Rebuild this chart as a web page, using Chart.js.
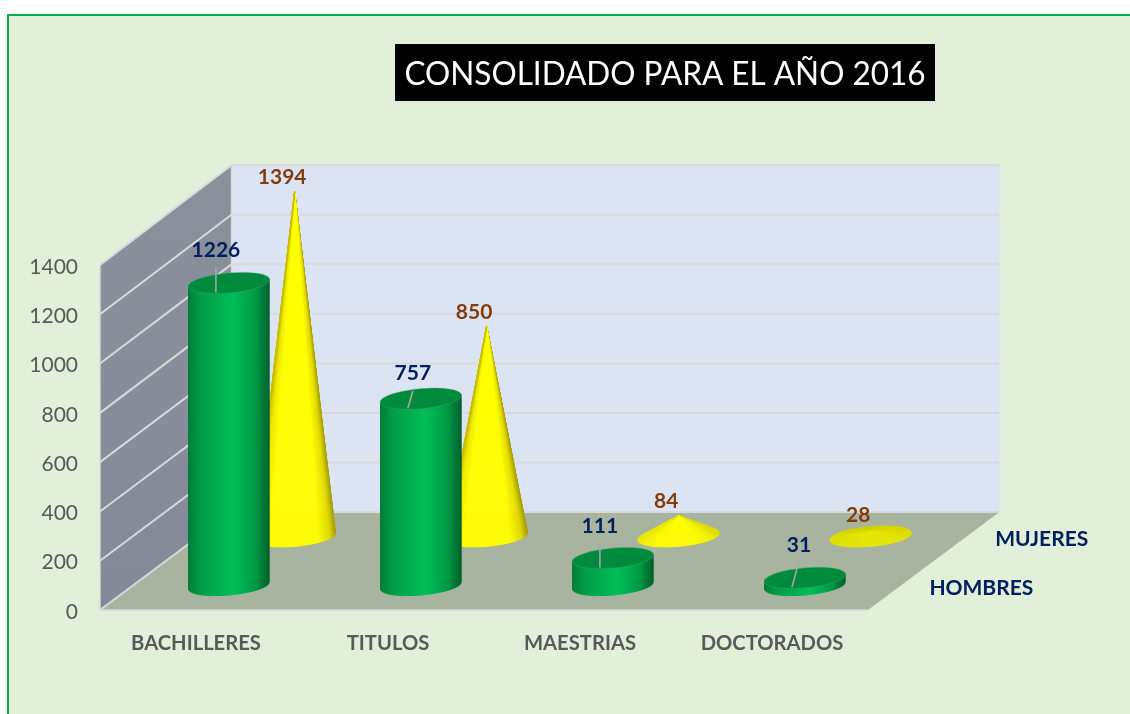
<!DOCTYPE html>
<html><head><meta charset="utf-8">
<style>
html,body{margin:0;padding:0;background:#fff;overflow:hidden}
#frame{position:absolute;left:7px;top:14px;width:1123px;height:700px;background:#E2EFD9;border-left:2px solid #00B050;border-top:2px solid #00B050;box-sizing:border-box}
canvas{position:absolute;left:0;top:0}
</style>
<script src="https://cdn.jsdelivr.net/npm/chart.js@4"></script>
</head><body>
<div id="frame"></div>
<canvas id="c" width="1130" height="714"></canvas>
<script>
const categories = ["BACHILLERES","TITULOS","MAESTRIAS","DOCTORADOS"];
const hombres = [1226,757,111,31];
const mujeres = [1394,850,84,28];
const seriesNames = ["HOMBRES","MUJERES"];
const chartTitle = "CONSOLIDADO PARA EL AÑO 2016";
const labelNudgeHombres = [-13,-8,-13,-6];   // horizontal shift of the moved labels
const labelLiftHombres = [34,26,33,34];      // vertical lift of the moved labels

const FONT = "Lato, Carlito, sans-serif";
const DEPTH_X = 131.5, DEPTH_Y = 98, ROT = -0.09, RX = 41, RY = 10, DEPTH_GROW = 0.005;
const ROWS = [0.25, 0.75];
let zeroPx = 610;

function project(x, y, d){
  return {x: x + DEPTH_X*d, y: zeroPx - (zeroPx-y)*(1+DEPTH_GROW*d) - DEPTH_Y*d};
}
function lerpStops(stops, s){
  for(let i=1;i<stops.length;i++){
    if(s<=stops[i][0]){
      const a=stops[i-1],b=stops[i],k=(s-a[0])/(b[0]-a[0]);
      return [0,1,2].map(j=>a[1][j]+(b[1][j]-a[1][j])*k);
    }
  }
  return stops[stops.length-1][1];
}
const yellowStops=[[0,[200,192,0]],[.07,[238,232,0]],[.2,[255,255,0]],[.78,[255,255,0]],[.92,[226,218,0]],[1,[165,158,0]]];

function drawCylinder(ctx, cx, baseY, topY){
  const g=ctx.createLinearGradient(cx-RX,0,cx+RX,0);
  g.addColorStop(0,'#007B38');g.addColorStop(.14,'#009A48');g.addColorStop(.55,'#00BE57');g.addColorStop(.82,'#009A46');g.addColorStop(1,'#005E2B');
  const cr=Math.cos(ROT), sr=Math.sin(ROT);
  ctx.beginPath();
  ctx.moveTo(cx+RX*cr, topY+RX*sr);
  ctx.lineTo(cx+RX*cr, baseY+RX*sr);
  ctx.ellipse(cx,baseY,RX,RY,ROT,0,Math.PI,false);
  ctx.lineTo(cx-RX*cr, topY-RX*sr);
  ctx.closePath();
  ctx.fillStyle=g;ctx.fill();
  ctx.beginPath();
  ctx.ellipse(cx,topY,RX,RY,ROT,0,Math.PI*2);
  ctx.fillStyle='#008A3E';ctx.fill();
  ctx.strokeStyle='rgba(60,170,110,.55)';ctx.lineWidth=.8;ctx.stroke();
}
function drawCone(ctx, cx, baseY, apexY){
  const cr=Math.cos(ROT), sr=Math.sin(ROT);
  const pt=t=>{const a=RX*Math.cos(t),b=RY*Math.sin(t);return [cx+a*cr-b*sr, baseY+a*sr+b*cr];};
  const dy=apexY-baseY;
  const ux=(dy*sr)/RX, uy=(dy*cr)/RY;
  const u=Math.hypot(ux,uy);
  let t0=0,t1=Math.PI*2;
  if(u>1){
    const phi=Math.atan2(uy,ux), d=Math.acos(1/u);
    t0=phi+d; t1=phi-d+Math.PI*2;
  }
  const flat=0.86+0.14*Math.min(1,u/2);
  const edge=Math.min(1,u/6);
  const N=160, step=(t1-t0)/N;
  for(let i=0;i<N;i++){
    const t=t0+step*i, p=pt(t), q=pt(t+step*1.05);
    const s=(Math.cos(t+step/2)+1)/2;
    const sn=Math.sin(t+step/2);
    const back=sn<0?1+0.1*sn:1;
    const c=lerpStops(yellowStops,s).map((v,j)=>{
      const plain=[255,255,0][j];
      return Math.round((plain+(v-plain)*edge)*flat*back);
    });
    const col=`rgb(${c[0]},${c[1]},${c[2]})`;
    ctx.beginPath();ctx.moveTo(cx,apexY);ctx.lineTo(p[0],p[1]);ctx.lineTo(q[0],q[1]);ctx.closePath();
    ctx.fillStyle=col;ctx.strokeStyle=col;ctx.lineWidth=.4;ctx.fill();ctx.stroke();
  }
}
function label(ctx,text,x,y,color,font){
  ctx.font=font;ctx.fillStyle=color;ctx.textAlign='center';ctx.textBaseline='middle';ctx.fillText(text,x,y);
}

const scene3d = {
  id:'scene3d',
  afterLayout(chart){
    chart.titleBlock.left=404.5; chart.titleBlock.right=925.5;
  },
  beforeDraw(chart){
    const ctx=chart.ctx;
    ctx.save();
    ctx.fillStyle='#000';ctx.fillRect(395,44,540,57);
    ctx.restore();
  },
  beforeDatasetsDraw(chart){
    const ctx=chart.ctx,{x:xs,y:ys}=chart.scales;
    const l=chart.chartArea.left,r=chart.chartArea.right,b=ys.getPixelForValue(0),t=ys.getPixelForValue(ys.max);
    zeroPx=b;
    const BL=project(l,b,1),BR=project(r,b,1),TL=project(l,t,1),TR=project(r,t,1);
    ctx.save();
    ctx.fillStyle='#DCE3F2';ctx.fillRect(BL.x,TL.y,BR.x-BL.x,BL.y-TL.y);
    const g=ctx.createLinearGradient(0,t-100,0,b);g.addColorStop(0,'#8B919B');g.addColorStop(1,'#838998');
    ctx.fillStyle=g;ctx.beginPath();ctx.moveTo(l,t);ctx.lineTo(TL.x,TL.y);ctx.lineTo(BL.x,BL.y);ctx.lineTo(l,b);ctx.closePath();ctx.fill();
    ctx.fillStyle='#A9B4A0';ctx.beginPath();ctx.moveTo(l,b);ctx.lineTo(r,b);ctx.lineTo(BR.x,BR.y);ctx.lineTo(BL.x,BL.y);ctx.closePath();ctx.fill();
    ctx.lineWidth=2;
    ys.ticks.forEach(tk=>{
      const py=ys.getPixelForValue(tk.value),a=project(l,py,1),c=project(r,py,1);
      ctx.strokeStyle='#D9D9D9';
      ctx.beginPath();ctx.moveTo(l,py);ctx.lineTo(a.x,a.y);ctx.lineTo(c.x,c.y);ctx.stroke();
    });
    ctx.lineWidth=1.5;ctx.strokeStyle='#D9D9D9';
    ctx.beginPath();ctx.moveTo(l,b);ctx.lineTo(r,b);ctx.stroke();
    ctx.beginPath();ctx.moveTo(l,b);ctx.lineTo(l,t);ctx.moveTo(BL.x,BL.y);ctx.lineTo(TL.x,TL.y);ctx.stroke();
    ctx.restore();
  },
  afterDatasetsDraw(chart){
    const ctx=chart.ctx,{x:xs,y:ys}=chart.scales;
    const zero=ys.getPixelForValue(0);
    ctx.save();
    mujeres.forEach((v,i)=>{
      const p=project(xs.getPixelForValue(i),ys.getPixelForValue(v),ROWS[1]);
      const base=zero-DEPTH_Y*ROWS[1];
      drawCone(ctx,p.x,base,p.y);
    });
    hombres.forEach((v,i)=>{
      const p=project(xs.getPixelForValue(i),ys.getPixelForValue(v),ROWS[0]);
      const base=zero-DEPTH_Y*ROWS[0];
      drawCylinder(ctx,p.x,base,p.y);
      const lx=p.x+labelNudgeHombres[i], ly=p.y-labelLiftHombres[i];
      ctx.strokeStyle='#A6A6A6';ctx.lineWidth=1.6;
      ctx.beginPath();ctx.moveTo(lx,ly+18);ctx.lineTo(p.x-13,p.y+9.5);ctx.stroke();
      label(ctx,String(v),lx,ly+1,'#002060',`bold 21px ${FONT}`);
    });
    mujeres.forEach((v,i)=>{
      const p=project(xs.getPixelForValue(i),ys.getPixelForValue(v),ROWS[1]);
      label(ctx,String(v),p.x-12.5,p.y-14,'#843C0C',`bold 21px ${FONT}`);
    });
    const r=chart.chartArea.right;
    seriesNames.forEach((n,i)=>{
      const p=project(r,zero,ROWS[i]);
      ctx.font=`bold 21px ${FONT}`;ctx.fillStyle='#002060';ctx.textAlign='left';ctx.textBaseline='middle';
      ctx.fillText(n,p.x+28.5,p.y+2.5);
    });
    ctx.restore();
  }
};

new Chart(document.getElementById('c'),{
  type:'bar',
  data:{labels:categories,datasets:[
    {label:seriesNames[0],data:hombres,backgroundColor:'rgba(0,0,0,0)',borderWidth:0},
    {label:seriesNames[1],data:mujeres,backgroundColor:'rgba(0,0,0,0)',borderWidth:0}
  ]},
  plugins:[scene3d],
  options:{
    responsive:false,animation:false,devicePixelRatio:1,
    events:[],
    layout:{padding:{left:0,right:262,top:0,bottom:0}},
    plugins:{
      legend:{display:false},tooltip:{enabled:false},
      title:{display:true,text:chartTitle,color:'#FFFFFF',align:'center',
        font:{family:FONT,size:33.6,weight:'normal',lineHeight:1.2},
        padding:{top:54,bottom:170.68}}
    },
    scales:{
      x:{type:'category',grid:{display:false},border:{display:false},
        afterFit(s){s.height=104;},
        ticks:{color:'#595959',font:{family:FONT,size:20.2,weight:'bold'},padding:13,maxRotation:0,autoSkip:false}},
      y:{min:0,max:1400,grid:{display:false,drawTicks:false},border:{display:false},
        afterFit(s){s.width=100;},
        ticks:{stepSize:200,color:'#595959',font:{family:FONT,size:21},padding:22,labelOffset:2,
          callback:v=>String(v)}}
    }
  }
});
</script>
</body></html>
